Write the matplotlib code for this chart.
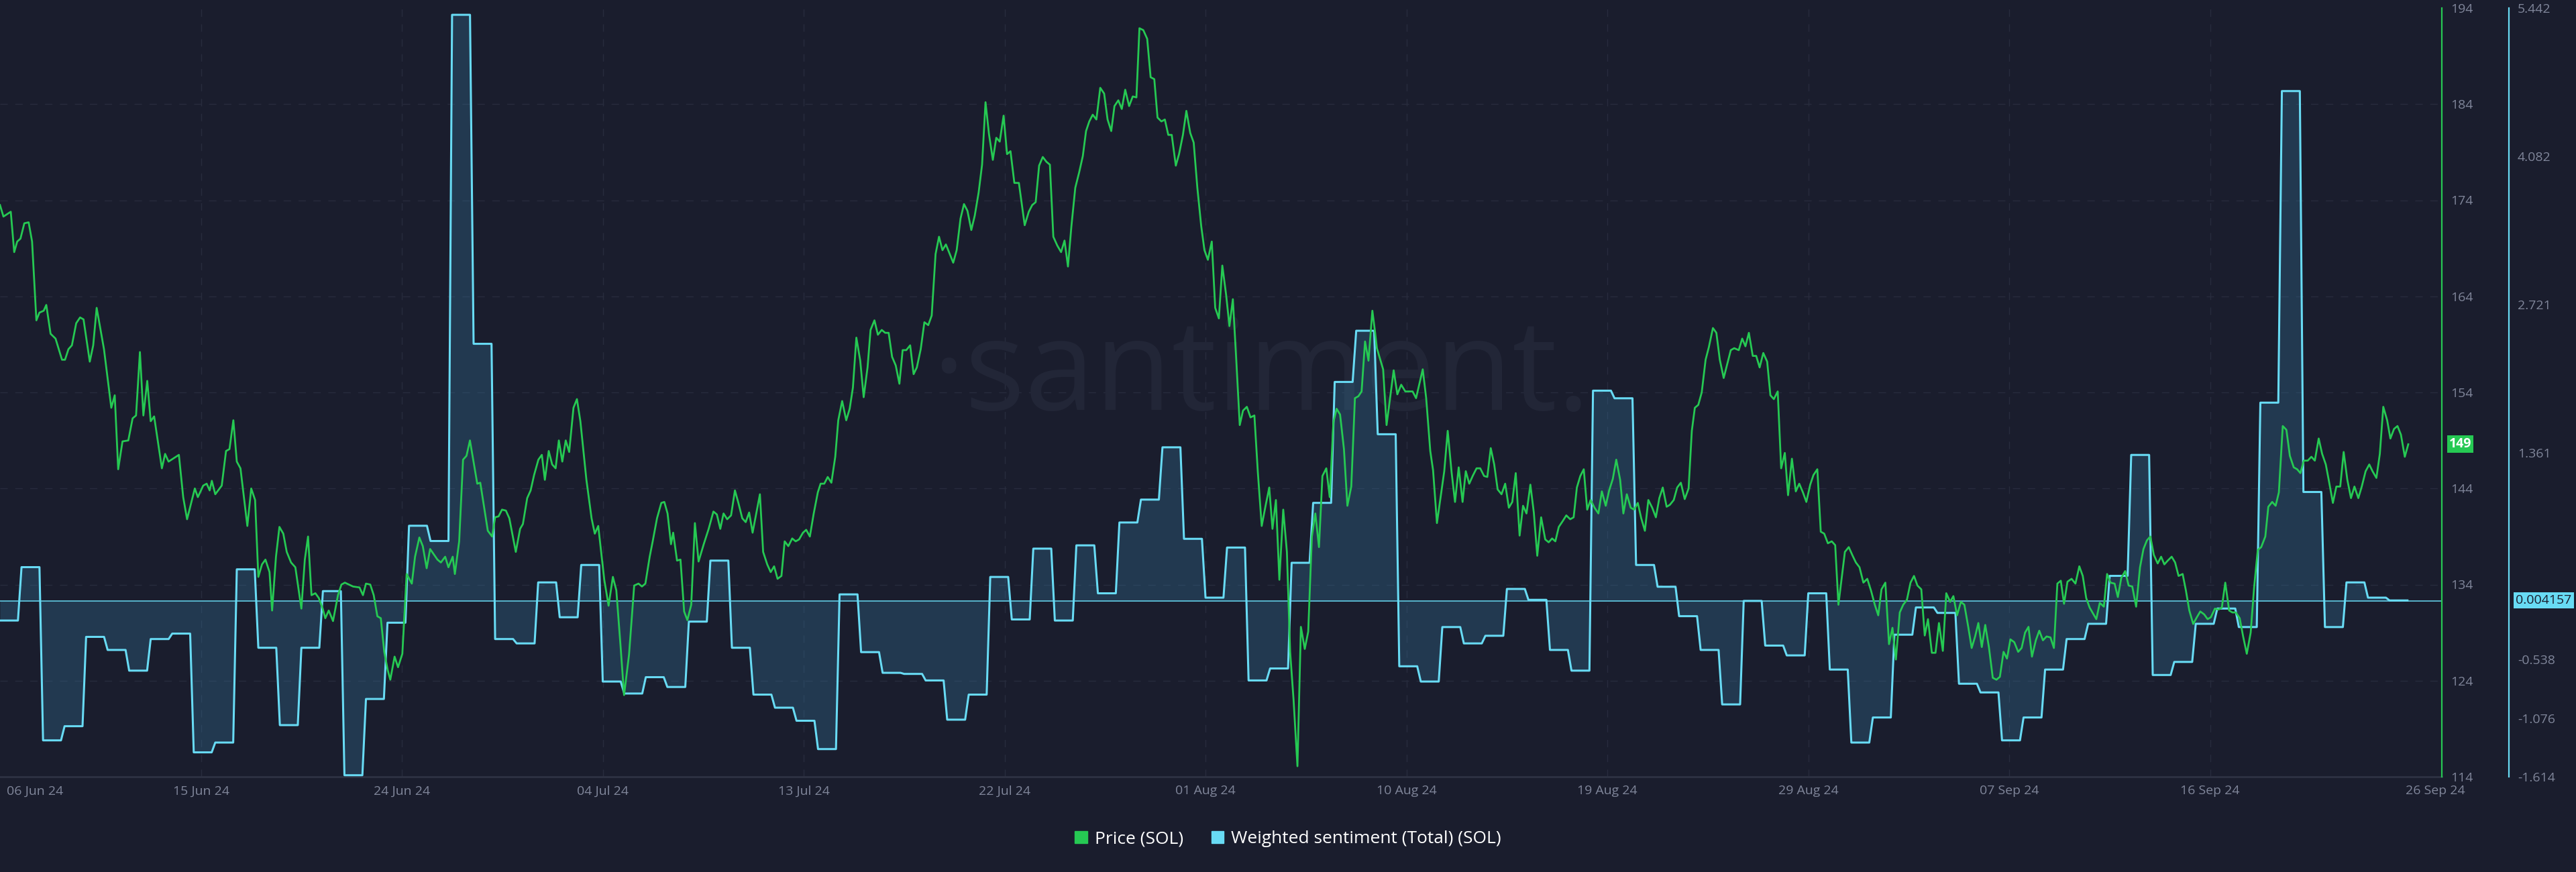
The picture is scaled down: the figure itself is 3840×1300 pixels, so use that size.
import numpy as np
import pandas as pd
import matplotlib
matplotlib.use("Agg")
import matplotlib.pyplot as plt
import matplotlib.dates as mdates
from matplotlib.patches import Patch

# series start: 06 Jun 2024, times given as days after the start
start_date = pd.Timestamp("2024-06-06")

# SOL price (day offset, USD)
price_day = [
    0.00, 0.16, 0.50, 0.66, 0.80, 0.95, 1.13, 1.33, 1.49, 1.69, 1.83, 2.03, 2.15, 2.35, 2.58, 2.88,
    3.02, 3.18, 3.34, 3.54, 3.72, 3.88, 4.17, 4.33, 4.49, 4.83, 5.17, 5.33, 5.49, 5.69, 5.96, 6.16,
    6.32, 6.50, 6.66, 6.84, 7.00, 7.16, 7.52, 7.67, 7.83, 8.31, 8.51, 8.69, 9.05, 9.19, 9.44, 9.60,
    9.74, 9.84, 10.00, 10.30, 10.50, 10.66, 10.84, 11.00, 11.17, 11.49, 11.67, 11.85, 12.00, 12.17,
    12.33, 12.52, 12.64, 12.82, 12.98, 13.16, 13.32, 13.52, 13.72, 14.00, 14.16, 14.31, 14.47, 14.65,
    14.81, 14.99, 15.11, 15.27, 15.47, 15.70, 15.86, 16.02, 16.40, 16.70, 16.86, 17.00, 17.20, 17.36,
    17.53, 17.69, 17.85, 18.01, 18.13, 18.33, 18.49, 18.69, 18.89, 19.13, 19.28, 19.48, 19.64, 19.82,
    19.98, 20.32, 20.48, 20.68, 20.83, 21.03, 21.13, 21.33, 21.51, 21.67, 21.83, 22.17, 22.31, 22.66,
    22.86, 23.00, 23.16, 23.32, 23.50, 23.66, 23.96, 24.16, 24.29, 24.49, 24.65, 24.81, 25.01, 25.17,
    25.31, 25.49, 25.65, 25.81, 25.96, 26.12, 26.28, 26.44, 26.64, 26.80, 26.96, 27.24, 27.48, 27.63,
    27.79, 28.07, 28.27, 28.47, 28.63, 28.83, 28.99, 29.22, 29.46, 29.66, 29.82, 29.98, 30.18, 30.32,
    30.52, 30.72, 30.86, 31.01, 31.17, 31.27, 31.45, 31.61, 31.78, 31.93, 32.11, 32.28, 32.45, 32.69,
    32.92, 33.14, 33.30, 33.46, 33.61, 33.78, 33.96, 34.14, 34.30, 34.48, 34.64, 34.80, 34.96, 35.30,
    35.45, 35.64, 35.80, 35.96, 36.12, 36.30, 36.45, 36.62, 36.80, 36.96, 37.12, 37.30, 37.45, 37.62,
    37.80, 37.99, 38.12, 38.29, 38.45, 38.62, 38.80, 38.94, 39.12, 39.31, 39.47, 39.62, 39.78, 39.96,
    40.12, 40.30, 40.44, 40.62, 40.78, 40.96, 41.12, 41.28, 41.44, 41.61, 41.78, 41.93, 42.10, 42.28,
    42.44, 42.59, 42.77, 42.94, 43.12, 43.28, 43.46, 43.62, 43.78, 43.94, 44.12, 44.28, 44.44, 44.62,
    44.78, 44.94, 45.12, 45.28, 45.46, 45.62, 45.78, 45.94, 46.12, 46.28, 46.44, 46.62, 46.78, 46.94,
    47.12, 47.33, 47.60, 47.79, 47.95, 48.11, 48.27, 48.44, 48.61, 48.77, 48.93, 49.11, 49.29, 49.45,
    49.61, 49.77, 49.95, 50.13, 50.30, 50.45, 50.60, 50.76, 50.93, 51.11, 51.29, 51.45, 51.62, 51.77,
    51.95, 52.11, 52.27, 52.45, 52.62, 52.79, 52.93, 53.11, 53.29, 53.45, 53.62, 53.77, 53.95, 54.11,
    54.27, 54.43, 54.62, 54.77, 54.95, 55.11, 55.29, 55.45, 55.62, 55.80, 55.95, 56.11, 56.29, 56.45,
    56.62, 56.78, 56.96, 57.11, 57.27, 57.43, 57.59, 57.74, 57.92, 58.09, 58.27, 58.43, 58.61, 58.78,
    58.96, 59.11, 59.27, 59.43, 59.61, 59.78, 59.93, 60.09, 60.27, 60.43, 60.61, 60.77, 60.94, 61.10,
    61.27, 61.43, 61.61, 61.77, 61.94, 62.09, 62.25, 62.43, 62.59, 62.77, 62.94, 63.10, 63.25, 63.41,
    63.57, 63.75, 63.88, 63.96, 64.25, 64.41, 64.74, 64.91, 65.09, 65.28, 65.62, 65.78, 66.09, 66.25,
    66.44, 66.57, 66.75, 67.09, 67.25, 67.43, 67.59, 67.76, 67.94, 68.09, 68.25, 68.41, 68.59, 68.76,
    68.94, 69.09, 69.25, 69.41, 69.57, 69.75, 69.92, 70.09, 70.25, 70.41, 70.59, 70.75, 70.91, 71.09,
    71.25, 71.41, 71.59, 71.78, 71.94, 72.10, 72.25, 72.41, 72.59, 72.76, 72.94, 73.10, 73.25, 73.41,
    73.57, 73.73, 73.89, 74.07, 74.25, 74.41, 74.59, 74.75, 74.92, 75.08, 75.26, 75.41, 75.57, 75.75,
    75.91, 76.08, 76.24, 76.41, 76.57, 76.75, 76.92, 77.08, 77.24, 77.42, 77.57, 77.75, 77.91, 78.08,
    78.26, 78.44, 78.59, 78.73, 78.89, 79.05, 79.23, 79.38, 79.57, 79.73, 79.89, 80.07, 80.40, 80.56,
    80.77, 80.93, 81.08, 81.24, 81.42, 81.58, 81.74, 81.91, 82.09, 82.24, 82.40, 82.58, 82.74, 82.91,
    83.06, 83.24, 83.42, 83.58, 83.75, 83.91, 84.09, 84.24, 84.42, 84.58, 84.74, 84.91, 85.09, 85.25,
    85.40, 85.70, 85.88, 86.06, 86.21, 86.38, 86.56, 86.74, 86.91, 87.09, 87.25, 87.40, 87.58, 87.75,
    87.91, 88.07, 88.25, 88.41, 88.58, 88.75, 88.91, 89.07, 89.25, 89.41, 89.56, 89.74, 89.91, 90.07,
    90.25, 90.41, 90.59, 90.74, 90.91, 91.09, 91.25, 91.43, 91.59, 91.75, 91.90, 92.06, 92.22, 92.39,
    92.57, 92.74, 92.90, 93.07, 93.23, 93.39, 93.57, 93.75, 93.91, 94.07, 94.23, 94.39, 94.57, 94.73,
    94.90, 95.07, 95.25, 95.41, 95.57, 95.73, 95.88, 96.04, 96.23, 96.41, 96.59, 96.75, 96.91, 97.07,
    97.38, 97.54, 97.73, 97.88, 98.04, 98.23, 98.38, 98.54, 98.72, 98.88, 99.05, 99.23, 99.41, 99.57,
    99.73, 99.89, 100.05, 100.23, 100.39, 100.54, 100.70, 100.88, 101.04, 101.20, 101.39, 101.54,
    101.70, 101.88, 102.05, 102.21, 102.39, 102.55, 102.70, 102.89, 103.05, 103.21, 103.37, 103.55,
    103.70, 103.86, 104.04, 104.20, 104.37, 104.55, 104.71, 104.88, 105.04, 105.23, 105.37, 105.55,
    105.71, 105.86, 106.04, 106.21, 106.37, 106.55, 106.71, 106.86, 107.02, 107.20, 107.37, 107.53,
    107.71, 107.87, 108.04, 108.20, 108.37, 108.53, 108.71, 108.87, 109.04, 109.21, 109.37, 109.55,
    109.71, 109.89, 110.06, 110.21, 110.39, 110.55, 110.71, 110.89, 111.04, 111.21, 111.37, 111.53,
    111.71, 111.87,
]
price_usd = [
    173.5, 172.3, 172.8, 168.6, 169.7, 170.0, 171.6, 171.7, 169.7, 161.5, 162.3, 162.5, 163.1, 160.1, 159.6, 157.4,
    157.4, 158.5, 158.9, 161.2, 161.8, 161.6, 157.2, 158.9, 162.8, 158.5, 152.4, 153.7, 146.0, 148.9, 149.0, 151.3,
    151.6, 158.2, 151.6, 155.2, 151.0, 151.5, 146.1, 147.6, 146.8, 147.5, 143.1, 140.8, 144.0, 143.1, 144.3, 144.5,
    143.8, 144.8, 143.4, 144.3, 147.9, 148.1, 151.1, 146.8, 146.1, 140.1, 144.0, 142.8, 134.8, 136.1,
    136.6, 135.3, 131.3, 136.9, 140.0, 139.3, 137.4, 136.3, 135.8, 131.5, 136.6, 139.0, 132.9, 133.1,
    132.6, 131.5, 130.5, 131.3, 130.2, 132.9, 134.0, 134.2, 133.8, 133.7, 132.9, 134.1, 134.0, 132.9,
    130.7, 130.5, 127.0, 125.1, 124.1, 126.5, 125.4, 126.8, 135.1, 134.1, 136.9, 138.9, 138.0, 135.7,
    137.7, 136.6, 136.3, 136.9, 135.8, 136.9, 135.1, 138.5, 147.0, 147.4, 149.0, 144.5, 144.6, 139.6,
    139.0, 141.0, 141.1, 141.8, 141.7, 140.9, 137.4, 139.8, 140.3, 143.0, 143.8, 145.4, 147.0, 147.5,
    144.9, 147.9, 146.5, 146.1, 149.0, 146.8, 149.0, 147.8, 152.4, 153.3, 151.0, 144.9, 140.9, 139.3,
    140.1, 134.5, 131.8, 134.8, 133.4, 127.5, 122.5, 126.7, 133.9, 134.1, 133.8, 134.1, 136.9, 138.5,
    140.9, 142.5, 142.6, 141.4, 138.2, 139.4, 136.5, 136.6, 131.2, 130.3, 131.9, 140.4, 136.4, 138.2,
    139.8, 141.6, 141.3, 139.8, 141.4, 140.8, 141.2, 143.8, 142.5, 140.9, 140.5, 141.5, 139.4, 143.4,
    137.4, 136.1, 135.3, 135.9, 134.6, 134.9, 138.5, 138.0, 138.8, 138.5, 138.7, 139.4, 139.7, 139.0,
    141.4, 143.6, 144.5, 144.5, 145.2, 144.6, 147.3, 151.1, 153.1, 151.1, 152.3, 154.5, 159.7, 157.3,
    153.5, 156.6, 160.5, 161.5, 160.0, 160.5, 160.2, 160.2, 157.7, 156.8, 154.9, 158.4, 158.4, 158.9,
    155.9, 156.6, 158.5, 161.3, 161.0, 162.0, 168.4, 170.2, 168.8, 169.4, 168.4, 167.5, 168.8, 172.1,
    173.6, 172.9, 170.9, 172.4, 174.8, 177.7, 184.2, 180.9, 178.2, 180.5, 180.1, 182.8, 178.8, 179.1,
    175.8, 175.8, 171.4, 172.8, 173.5, 173.8, 177.6, 178.5, 178.0, 177.7, 170.2, 169.3, 168.6, 169.8,
    167.1, 171.3, 175.3, 176.9, 178.6, 181.2, 182.2, 182.9, 182.4, 185.7, 185.1, 182.4, 181.2, 183.8,
    184.4, 183.5, 185.5, 183.8, 184.8, 184.7, 191.9, 191.7, 190.8, 186.8, 186.6, 182.6, 182.2, 182.4,
    180.8, 180.8, 177.6, 178.8, 180.8, 183.3, 181.0, 180.0, 175.3, 171.3, 168.8, 167.8, 169.7, 162.8,
    161.7, 167.2, 164.1, 160.9, 163.7, 157.3, 150.6, 152.1, 152.5, 151.4, 151.6, 145.7, 140.1, 142.1,
    144.1, 139.8, 142.8, 134.5, 141.8, 137.4, 127.0, 122.0, 115.1, 129.6, 127.3, 129.1, 139.0, 141.4,
    137.9, 145.3, 146.1, 143.1, 150.9, 152.3, 151.7, 148.1, 142.2, 144.2, 153.4, 153.6, 154.1, 159.3,
    157.3, 162.5, 160.2, 158.6, 156.4, 150.6, 156.3, 153.8, 154.8, 154.1, 154.1, 153.4, 156.4, 153.4,
    147.9, 145.9, 140.4, 145.8, 150.0, 145.7, 142.6, 146.2, 142.6, 145.8, 144.5, 145.3, 146.1, 146.1,
    145.3, 145.2, 148.2, 146.5, 143.9, 143.4, 144.5, 142.0, 142.6, 145.6, 139.1, 142.2, 141.4, 144.4,
    141.5, 137.0, 141.0, 138.7, 138.4, 138.8, 138.5, 140.0, 140.6, 141.2, 140.8, 141.0, 144.1, 145.3,
    146.0, 141.8, 142.8, 142.0, 141.4, 143.7, 142.2, 143.8, 145.0, 147.0, 144.9, 141.4, 143.4, 142.0,
    141.8, 142.5, 140.9, 139.6, 142.8, 142.0, 141.0, 143.0, 144.1, 142.1, 142.3, 142.8, 144.1, 144.6,
    142.9, 144.0, 150.0, 152.4, 152.7, 154.0, 157.4, 158.7, 160.7, 160.2, 157.4, 155.5, 158.4, 158.6,
    158.4, 159.6, 158.8, 160.2, 157.8, 157.8, 156.6, 158.1, 157.2, 153.7, 153.3, 154.1, 146.1, 147.7,
    143.3, 147.1, 143.7, 144.5, 143.6, 142.6, 144.4, 145.4, 146.0, 139.5, 139.3, 138.3, 138.5, 138.1,
    131.9, 137.4, 137.9, 137.0, 136.3, 135.8, 134.2, 134.6, 133.4, 131.9, 130.8, 133.5, 134.2, 127.8,
    129.5, 126.2, 131.1, 131.9, 132.4, 134.2, 134.9, 133.9, 133.5, 128.7, 130.4, 126.9, 126.9, 130.0,
    127.1, 133.1, 132.2, 132.8, 130.8, 132.2, 131.9, 129.6, 127.4, 128.6, 130.0, 127.5, 129.8, 127.5,
    124.3, 124.1, 124.4, 127.0, 126.3, 128.3, 128.0, 127.0, 127.4, 129.0, 129.6, 126.5, 128.2, 129.2,
    128.2, 128.6, 128.5, 127.4, 134.1, 134.4, 132.0, 134.3, 134.6, 134.1, 135.9, 134.9, 132.6, 131.6,
    130.4, 132.1, 131.7, 135.1, 134.2, 134.1, 132.7, 134.7, 135.4, 133.9, 133.8, 131.7, 135.8, 137.7,
    138.6, 139.0, 137.1, 136.2, 136.9, 136.1, 136.5, 136.9, 136.3, 134.9, 135.1, 133.4,
    131.3, 129.9, 130.6, 131.2, 130.9, 130.4, 130.6, 131.5, 131.4, 131.6, 134.2, 131.3,
    131.1, 131.1, 130.5, 128.6, 126.8, 129.0, 133.7, 137.6, 137.9, 139.0, 142.1, 142.6,
    142.2, 143.6, 150.5, 150.1, 147.4, 146.2, 146.0, 145.6, 146.9, 146.9, 147.3, 146.9,
    149.2, 147.6, 146.5, 144.6, 142.5, 144.2, 144.2, 147.8, 144.9, 143.0, 144.2, 143.0,
    144.2, 145.8, 146.5, 145.8, 145.1, 147.6, 152.5, 151.1, 149.2, 150.2, 150.5, 149.6,
    147.3, 148.6,
]

# weighted sentiment, one value per day (day 0 = 06 Jun)
sentiment_daily = [
    -0.18, 0.31, -1.28, -1.15, -0.33, -0.45, -0.64, -0.35, -0.30, -1.39,
    -1.30, 0.29, -0.43, -1.14, -0.43, 0.09, -1.60, -0.90, -0.20, 0.69,
    0.55, 5.38, 2.36, -0.35, -0.39, 0.17, -0.15, 0.33, -0.74, -0.85,
    -0.70, -0.79, -0.19, 0.37, -0.43, -0.86, -0.98, -1.10, -1.36, 0.06,
    -0.47, -0.66, -0.67, -0.73, -1.09, -0.86, 0.22, -0.17, 0.48, -0.18,
    0.51, 0.07, 0.72, 0.93, 1.41, 0.57, 0.03, 0.49, -0.73, -0.62,
    0.35, 0.90, 2.01, 2.48, 1.53, -0.60, -0.74, -0.24, -0.39, -0.32,
    0.11, 0.01, -0.45, -0.64, 1.93, 1.86, 0.33, 0.13, -0.14, -0.45,
    -0.95, 0.00, -0.41, -0.50, 0.07, -0.63, -1.30, -1.07, -0.31, -0.06,
    -0.11, -0.76, -0.84, -1.28, -1.07, -0.63, -0.35, -0.21, 0.23, 1.34,
    -0.68, -0.56, -0.21, -0.07, -0.24, 1.82, 4.68, 1.00, -0.24, 0.17,
    0.03, 0.004157,
]

price_ticks = [114, 124, 134, 144, 154, 164, 174, 184, 194]
sentiment_ticks = [5.442, 4.082, 2.721, 1.361, -0.538, -1.076, -1.614]
tick_step_days = 112 / 12

BG = "#1a1d2d"
GREEN = "#26c953"
BLUE = "#68dbf4"
GRAY = "#80869a"
GRID = "#282c3d"

plt.rcParams["font.family"] = ["Open Sans", "DejaVu Sans"]

t0 = mdates.date2num(start_date)
px = t0 + np.array(price_day)
py = np.array(price_usd)

# each daily sentiment value holds for 20 hours, then moves to the next one
days = np.arange(len(sentiment_daily))
sx = t0 + np.repeat(days, 2) + np.tile([0, 5 / 6], len(days))
sy = np.repeat(sentiment_daily, 2)

fig = plt.figure(figsize=(38.4, 13), dpi=100, facecolor=BG)
ax_s = fig.add_axes([0, 1 - 1158 / 1300, 3640 / 3840, 1146 / 1300])
ax_p = ax_s.twinx()
ax_s.set_facecolor(BG)

s_min, s_max = -1.614, 5.442
p_min, p_max = 114, 194
ax_s.set_ylim(s_min, s_max)
ax_p.set_ylim(p_min, p_max)
ax_s.set_xlim(t0, t0 + 113.43)

# grid (drawn on the sentiment axis so it stays under everything)
for p in price_ticks[1:-1]:
    ax_s.axhline(s_min + (p - p_min) / (p_max - p_min) * (s_max - s_min),
                 color=GRID, lw=1, ls=(0, (8, 8)), zorder=0)
inner_ticks = [t0 + k * tick_step_days for k in range(1, 12)]
for t in inner_ticks:
    ax_s.axvline(t, color=GRID, lw=1, ls=(0, (8, 8)), zorder=0)

ax_s.text(0.5165, 0.52, "·santiment.", transform=ax_s.transAxes, ha="center", va="center",
          fontsize=135, color="#222637", zorder=0)

# sentiment area + line
ax_s.fill_between(sx, sy, 0, color="#3b8eb9", alpha=0.25, lw=0, zorder=1)
ax_s.axhline(0, color=BLUE, lw=1.1, zorder=2)
ax_s.plot(sx, sy, color=BLUE, lw=2.2, zorder=3)

# price line
ax_p.plot(px, py, color=GREEN, lw=2.0, zorder=3)

# spines
for side in ["top", "left"]:
    ax_s.spines[side].set_visible(False)
    ax_p.spines[side].set_visible(False)
ax_p.spines["bottom"].set_visible(False)
ax_s.spines["bottom"].set_color("#2e3243")
ax_s.spines["bottom"].set_linewidth(2)
ax_s.spines["right"].set_position(("axes", 3740 / 3640))
ax_s.spines["right"].set_color(BLUE)
ax_s.spines["right"].set_linewidth(1.6)
ax_p.spines["right"].set_color(GREEN)
ax_p.spines["right"].set_linewidth(1.6)

# y ticks
ax_s.yaxis.tick_right()
ax_s.set_yticks(sentiment_ticks, labels=[f"{v:.3f}" for v in sentiment_ticks])
ax_p.set_yticks(price_ticks)
for a in (ax_s, ax_p):
    a.tick_params(axis="y", length=0, pad=9.4, labelsize=14, labelcolor=GRAY)

# x ticks: inner ones on the axis, first and last placed at the edges
ax_s.set_xticks(inner_ticks, labels=[mdates.num2date(t).strftime("%d %b %y") for t in inner_ticks])
ax_s.tick_params(axis="x", length=0, pad=9, labelsize=14, labelcolor=GRAY)
ax_s.annotate(start_date.strftime("%d %b %y"), xy=(t0, 0), xycoords=("data", "axes fraction"),
              xytext=(7, -9), textcoords="offset points", ha="left", va="top",
              fontsize=14, color=GRAY, annotation_clip=False)
end_t = t0 + 12 * tick_step_days
ax_s.annotate(mdates.num2date(end_t).strftime("%d %b %y"), xy=(end_t, 0),
              xycoords=("data", "axes fraction"), xytext=(26, -9), textcoords="offset points",
              ha="center", va="top", fontsize=14, color=GRAY, annotation_clip=False)

# last-value labels
ax_p.annotate(f"{price_usd[-1]:.0f}", xy=(1, price_usd[-1]), xycoords=("axes fraction", "data"),
              xytext=(7.5, 0), textcoords="offset points", ha="left", va="center",
              fontsize=14, fontweight="bold", color="white", annotation_clip=False,
              bbox=dict(boxstyle="square,pad=0.15", fc=GREEN, ec="none"))
ax_s.annotate(f"{sentiment_daily[-1]}", xy=(3740 / 3640, sentiment_daily[-1]),
              xycoords=("axes fraction", "data"), xytext=(7.5, 0), textcoords="offset points",
              ha="left", va="center", fontsize=14, color=BG, annotation_clip=False,
              bbox=dict(boxstyle="square,pad=0.15", fc=BLUE, ec="none"))

handles = [Patch(color=GREEN, label="Price (SOL)"),
           Patch(color=BLUE, label="Weighted sentiment (Total) (SOL)")]
fig.legend(handles=handles, loc="center", bbox_to_anchor=(0.5, 0.038), ncol=2, frameon=False,
           fontsize=19, labelcolor="white", handlelength=0.7, handleheight=0.7,
           handletextpad=0.4, columnspacing=1.6)

fig.savefig("out.png", dpi=100, facecolor=BG)
